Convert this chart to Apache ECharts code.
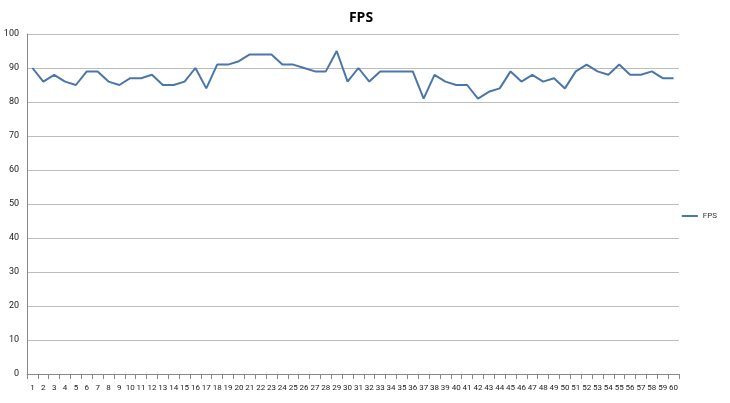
<!DOCTYPE html>
<html><head><meta charset="utf-8">
<script src="https://cdn.jsdelivr.net/npm/echarts@6/dist/echarts.min.js"></script>
<style>html,body{margin:0;padding:0;background:#fff;}#c{width:730px;height:403px;}</style>
</head><body><div id="c"></div>
<script>
const categories = Array.from({length:60},(_,i)=>String(i+1));
const fpsValues = [90,86,88,86,85,89,89,86,85,87,87,88,85,85,86,90,84,91,91,92,94,94,94,91,91,90,89,89,95,86,90,86,89,89,89,89,81,88,86,85,85,81,83,84,89,86,88,86,87,84,89,91,89,88,91,88,88,89,87,87];
const chart = echarts.init(document.getElementById('c'));
chart.setOption({
  animation:false,
  title:{text:'FPS',left:356,top:6,textAlign:'center',textStyle:{fontFamily:'Open Sans',fontSize:14,fontWeight:'bold',color:'#000'}},
  legend:{right:8,top:207,orient:'vertical',itemWidth:16,itemHeight:2,itemGap:4,icon:'rect',textStyle:{fontSize:8,color:'#333',fontFamily:'Roboto'},data:['FPS']},
  grid:{left:27,right:51,top:34,bottom:29},
  xAxis:{type:'category',data:categories,boundaryGap:true,
    axisLine:{lineStyle:{color:'#888'}},axisTick:{show:true,interval:0,lineStyle:{color:'#888'}},
    axisLabel:{interval:0,fontSize:8,color:'#222',fontFamily:'Roboto',margin:10}},
  yAxis:{type:'value',min:0,max:100,interval:10,
    axisLine:{show:true,lineStyle:{color:'#888'}},axisTick:{show:false},
    splitLine:{lineStyle:{color:'#bdbdbd'}},
    axisLabel:{fontSize:9,color:'#222',fontFamily:'Roboto',margin:8}},
  series:[{name:'FPS',type:'line',data:fpsValues,symbol:'none',lineStyle:{color:'#4a76a8',width:2},itemStyle:{color:'#4a76a8'}}]
});
</script></body></html>
